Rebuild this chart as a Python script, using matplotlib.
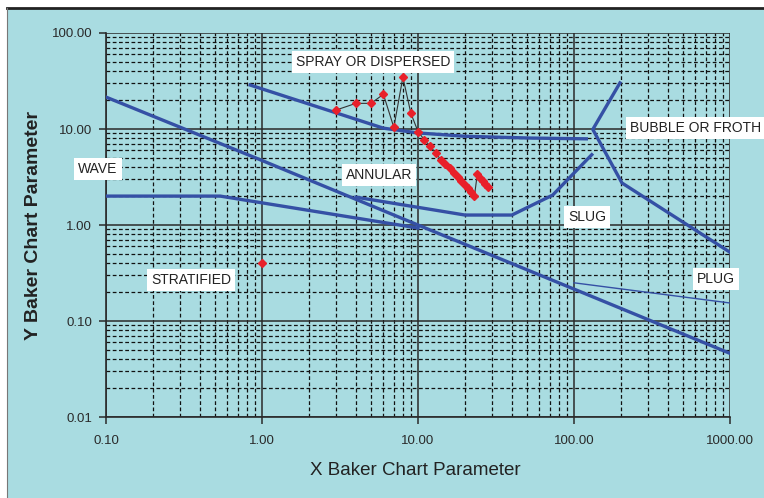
import matplotlib
matplotlib.use('Agg')
import matplotlib.pyplot as plt
from matplotlib.patches import Rectangle
from matplotlib.lines import Line2D
from matplotlib.ticker import LogLocator, FuncFormatter, NullFormatter

plt.rcParams['font.family'] = ['Liberation Sans', 'DejaVu Sans']

# ---- data: Baker chart boundary lines ----
annular_wave_x = [0.1, 1, 10, 100, 1000]
annular_wave_y = [21.5, 4.7, 1.0, 0.215, 0.046]
wave_x = [0.1, 0.54, 10]
wave_y = [2.0, 2.0, 0.93]
dispersed_x = [0.84, 6.0, 10, 20, 52, 120]
dispersed_y = [28.7, 10.2, 9.1, 8.4, 8.05, 7.9]
slug_x = [4.0, 20, 40, 73, 130]
slug_y = [1.95, 1.27, 1.27, 2.05, 5.4]
bubble_x = [197, 132, 203, 1000]
bubble_y = [30.2, 9.9, 2.74, 0.52]
plug_x = [100, 1000]
plug_y = [0.25, 0.154]

# ---- data: operating points ----
op_x = [3, 4, 5, 6, 7, 8, 9, 10, 11, 12, 13, 14, 15, 16, 17, 18, 19, 20,
        21, 22, 23, 24, 25, 26, 27, 28]
op_y = [15.8, 18.5, 18.5, 23.0, 10.4, 34.6, 14.6, 9.4, 7.7, 6.6, 5.6, 4.8,
        4.3, 3.9, 3.5, 3.2, 2.9, 2.6, 2.4, 2.2, 2.0, 3.4, 3.1, 2.9, 2.7, 2.5]
single_x = [1.0]
single_y = [0.40]

region_labels = ["SPRAY OR DISPERSED", "WAVE", "ANNULAR", "BUBBLE OR FROTH",
                 "SLUG", "PLUG", "STRATIFIED"]
x_ticks = [0.1, 1, 10, 100, 1000]
y_ticks = [0.01, 0.1, 1, 10, 100]

W, H = 764, 498
fig = plt.figure(figsize=(W / 100, H / 100), dpi=100)
fig.patch.set_facecolor('white')
bg = '#a9dce1'
fig.add_artist(Rectangle((7 / W, 0), 1 - 7 / W, 1 - 8 / H, transform=fig.transFigure,
                         facecolor=bg, edgecolor='none', zorder=0))
fig.add_artist(Line2D([7 / W, 1], [1 - 8 / H, 1 - 8 / H], transform=fig.transFigure,
                      color='#222222', lw=2.0))
fig.add_artist(Line2D([7 / W, 7 / W], [0, 1 - 8 / H], transform=fig.transFigure,
                      color='#777777', lw=0.8))

ax = fig.add_axes([106 / W, 1 - 417 / H, 624 / W, 384 / H])
ax.set_facecolor(bg)
ax.set_xscale('log')
ax.set_yscale('log')
ax.set_xlim(0.1, 1000)
ax.set_ylim(0.01, 100)

ax.xaxis.set_minor_locator(LogLocator(base=10, subs=range(2, 10), numticks=20))
ax.yaxis.set_minor_locator(LogLocator(base=10, subs=range(2, 10), numticks=20))
ax.set_xticks(x_ticks)
ax.set_yticks(y_ticks)
fmt = FuncFormatter(lambda v, p: f"{v:.2f}")
ax.xaxis.set_major_formatter(fmt)
ax.yaxis.set_major_formatter(fmt)
ax.xaxis.set_minor_formatter(NullFormatter())
ax.yaxis.set_minor_formatter(NullFormatter())

ax.grid(which='major', color='#2a2a2a', lw=1.1, ls='-')
ax.grid(which='minor', color='#111111', lw=0.9, ls=(0, (3, 2)))
ax.set_axisbelow(True)
ax.tick_params(which='major', direction='out', length=5, width=1.1, color='#2a2a2a',
               labelsize=9.5, labelcolor='#2a2a2a')
ax.tick_params(axis='x', which='major', pad=8)
ax.tick_params(axis='y', which='major', pad=5)
ax.tick_params(which='minor', length=0)
for s in ['top', 'right']:
    ax.spines[s].set_visible(False)
for s in ['left', 'bottom']:
    ax.spines[s].set_color('#2a2a2a')
    ax.spines[s].set_linewidth(1.2)

blue = '#3550a5'
lw = 2.4
ax.plot(annular_wave_x, annular_wave_y, color=blue, lw=lw, zorder=3)
ax.plot(wave_x, wave_y, color=blue, lw=lw, zorder=3)
ax.plot(dispersed_x, dispersed_y, color=blue, lw=lw, zorder=3)
ax.plot(slug_x, slug_y, color=blue, lw=lw, zorder=3)
ax.plot(bubble_x, bubble_y, color=blue, lw=lw, zorder=3)
ax.plot(plug_x, plug_y, color=blue, lw=1.0, zorder=3)

ax.plot(op_x, op_y, color='#333333', lw=0.8, marker='D', markersize=4.2,
        markerfacecolor='#e8202a', markeredgecolor='#e8202a', zorder=5)
ax.plot(single_x, single_y, ls='none', marker='D', markersize=4.2,
        markerfacecolor='#e8202a', markeredgecolor='#e8202a', zorder=5)

box = dict(facecolor='white', edgecolor='none', pad=3.0)
tkw = dict(fontsize=10, color='#222222', bbox=box, zorder=6, clip_on=False)
ax.text(5.15, 49.9, region_labels[0], ha='center', va='center', **tkw)
ax.text(0.089, 3.83, region_labels[1], ha='center', va='center', **tkw)
ax.text(5.62, 3.32, region_labels[2], ha='center', va='center', **tkw)
ax.text(228, 10.2, region_labels[3], ha='left', va='center',
        fontsize=10, color='#222222', zorder=6, clip_on=False,
        bbox=dict(facecolor='white', edgecolor='none', pad=3.0,
                  boxstyle='square,pad=0.3'))
ax.text(121, 1.21, region_labels[4], ha='center', va='center', **tkw)
ax.text(813, 0.274, region_labels[5], ha='center', va='center', **tkw)
ax.text(0.351, 0.267, region_labels[6], ha='center', va='center', **tkw)

fig.text(415 / W, 1 - 470 / H, "X Baker Chart Parameter", ha='center', va='center',
         fontsize=13.5, color='#222222')
fig.text(34 / W, 1 - 225 / H, "Y Baker Chart Parameter", ha='center', va='center',
         rotation=90, fontsize=14, fontweight='bold', color='#222222')

fig.savefig('out.png', dpi=100, facecolor=fig.get_facecolor())
